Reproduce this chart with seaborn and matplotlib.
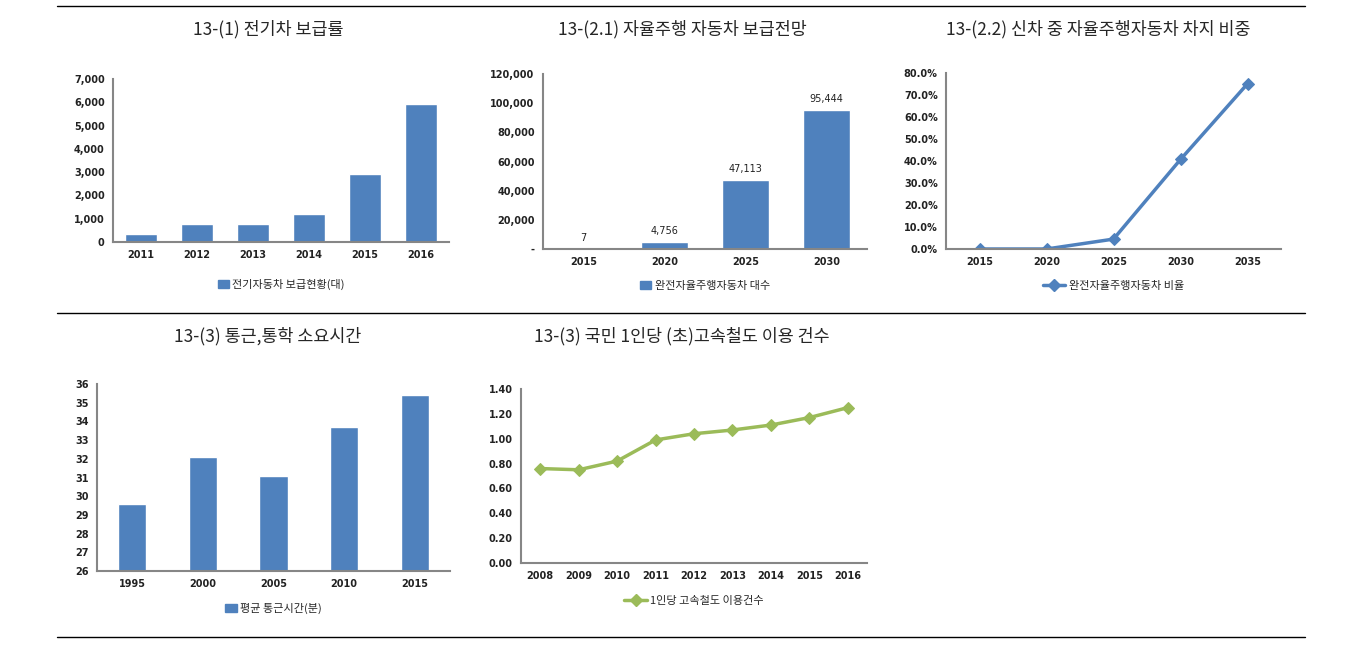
import matplotlib
matplotlib.use("Agg")
import matplotlib.pyplot as plt
import matplotlib.ticker as mticker
from matplotlib.lines import Line2D
import seaborn as sns
import pandas as pd

# data
ev_years = ["2011", "2012", "2013", "2014", "2015", "2016"]
ev_counts = [338, 753, 780, 1183, 2907, 5914]

av_years = ["2015", "2020", "2025", "2030"]
av_counts = [7, 4756, 47113, 95444]

av_share_years = ["2015", "2020", "2025", "2030", "2035"]
av_share = [0.0, 0.0, 4.5, 40.7, 75.1]

commute_years = ["1995", "2000", "2005", "2010", "2015"]
commute_minutes = [29.6, 32.1, 31.1, 33.7, 35.4]

ktx_years = ["2008", "2009", "2010", "2011", "2012", "2013", "2014", "2015", "2016"]
ktx_per_person = [0.76, 0.75, 0.82, 0.99, 1.04, 1.07, 1.11, 1.17, 1.25]

sns.set_style("white")
plt.rcParams["font.family"] = ["Noto Sans CJK KR", "DejaVu Sans"]

BLUE = "#4F81BD"
GREEN = "#9BBB59"
GRAY = "#868686"
W, H = 1350, 656

fig = plt.figure(figsize=(13.5, 6.56), dpi=100)


def add_ax(left, top, right, bottom):
    return fig.add_axes([left / W, 1 - bottom / H, (right - left) / W, (bottom - top) / H])


def style(ax):
    sns.despine(ax=ax)
    for s in ["left", "bottom"]:
        ax.spines[s].set_color(GRAY)
        ax.spines[s].set_linewidth(1.5)
    ax.tick_params(axis="both", labelsize=7, length=0, pad=6,
                   labelfontfamily="DejaVu Sans", labelcolor="#222222")
    ax.set_xlabel("")
    ax.set_ylabel("")


def bold_ticks(ax):
    # labels are rebuilt at draw time, so set weight after the figure is drawn
    for lab in ax.get_xticklabels() + ax.get_yticklabels():
        lab.set_fontweight("bold")


def legend_below(ax, handle, label, y):
    ax.legend([handle], [label], loc="center", bbox_to_anchor=(0.5, y),
              frameon=False, fontsize=8, handlelength=1.0 if isinstance(handle, plt.Rectangle) else 2.0,
              handletextpad=0.3)


def title(x, y, text):
    fig.text(x / W, 1 - y / H, text, ha="center", va="center", fontsize=12.5)


bar_handle = plt.Rectangle((0, 0), 1, 1, color=BLUE)

# 1. EV
ax1 = add_ax(113, 79, 449, 242)
sns.barplot(x=ev_years, y=ev_counts, color=BLUE, saturation=1, width=0.58, ax=ax1)
ax1.set_ylim(0, 7000)
ax1.set_yticks(range(0, 7001, 1000))
ax1.yaxis.set_major_formatter(mticker.StrMethodFormatter("{x:,.0f}"))
style(ax1)
legend_below(ax1, bar_handle, "전기자동차 보급현황(대)", -0.26)

# 2. autonomous vehicles
ax2 = add_ax(543, 74, 867, 249)
sns.barplot(x=av_years, y=av_counts, color=BLUE, saturation=1, width=0.57, ax=ax2)
ax2.set_ylim(0, 120000)
ax2.set_yticks(range(0, 120001, 20000))
ax2.yaxis.set_major_formatter(mticker.FuncFormatter(lambda v, p: "-" if v == 0 else f"{v:,.0f}"))
for i, v in enumerate(av_counts):
    ax2.text(i, v + 4000, f"{v:,}", ha="center", va="bottom", fontsize=7,
             family="DejaVu Sans", color="#222222")
style(ax2)
legend_below(ax2, bar_handle, "완전자율주행자동차 대수", -0.21)

# 3. share of new cars
ax3 = add_ax(946, 73, 1281, 249)
df3 = pd.DataFrame({"x": range(len(av_share_years)), "y": av_share})
sns.lineplot(data=df3, x="x", y="y", color=BLUE, linewidth=2.5, marker="D",
             markersize=6, markeredgecolor=BLUE, ax=ax3)
ax3.set_xlim(-0.5, len(av_share_years) - 0.5)
ax3.set_xticks(range(len(av_share_years)))
ax3.set_xticklabels(av_share_years)
ax3.set_ylim(0, 80)
ax3.set_yticks(range(0, 81, 10))
ax3.yaxis.set_major_formatter(mticker.FuncFormatter(lambda v, p: f"{v:.1f}%"))
style(ax3)
legend_below(ax3, Line2D([], [], color=BLUE, lw=2.5, marker="D", markersize=6),
             "완전자율주행자동차 비율", -0.21)

# 4. commute time
ax4 = add_ax(97, 384, 450, 571)
sns.barplot(x=commute_years, y=commute_minutes, color=BLUE, saturation=1, width=0.4, ax=ax4)
ax4.set_ylim(26, 36)
ax4.set_yticks(range(26, 37))
ax4.set_xlim(-0.5, len(commute_years) - 0.5)
ax4.set_xticks([i - 0.5 for i in range(len(commute_years) + 1)], minor=True)
style(ax4)
ax4.tick_params(axis="y", length=3, color=GRAY, direction="out", pad=3)
ax4.tick_params(axis="x", which="minor", length=4, color=GRAY, direction="out")
legend_below(ax4, bar_handle, "평균 통근시간(분)", -0.2)

# 5. KTX use per person
ax5 = add_ax(521, 389, 867, 563)
df5 = pd.DataFrame({"x": range(len(ktx_years)), "y": ktx_per_person})
sns.lineplot(data=df5, x="x", y="y", color=GREEN, linewidth=2.5, marker="D",
             markersize=6, markeredgecolor=GREEN, ax=ax5)
ax5.set_xlim(-0.5, len(ktx_years) - 0.5)
ax5.set_xticks(range(len(ktx_years)))
ax5.set_xticklabels(ktx_years)
ax5.set_ylim(0, 1.4)
ax5.set_yticks([i * 0.2 for i in range(8)])
ax5.yaxis.set_major_formatter(mticker.FuncFormatter(lambda v, p: f"{v:.2f}"))
style(ax5)
legend_below(ax5, Line2D([], [], color=GREEN, lw=2.5, marker="D", markersize=6),
             "1인당 고속철도 이용건수", -0.22)

# titles
title(268, 29, "13-(1) 전기차 보급률")
title(682, 29, "13-(2.1) 자율주행 자동차 보급전망")
title(1098, 29, "13-(2.2) 신차 중 자율주행자동차 차지 비중")
title(268, 336, "13-(3) 통근,통학 소요시간")
title(682, 336, "13-(3) 국민 1인당 (초)고속철도 이용 건수")

# horizontal rules
for y in [6, 313, 637]:
    fig.add_artist(Line2D([57 / W, 1305 / W], [1 - y / H, 1 - y / H], color="black", lw=1))

fig.canvas.draw()
for ax in [ax1, ax2, ax3, ax4, ax5]:
    bold_ticks(ax)

fig.savefig("out.png", dpi=100)
